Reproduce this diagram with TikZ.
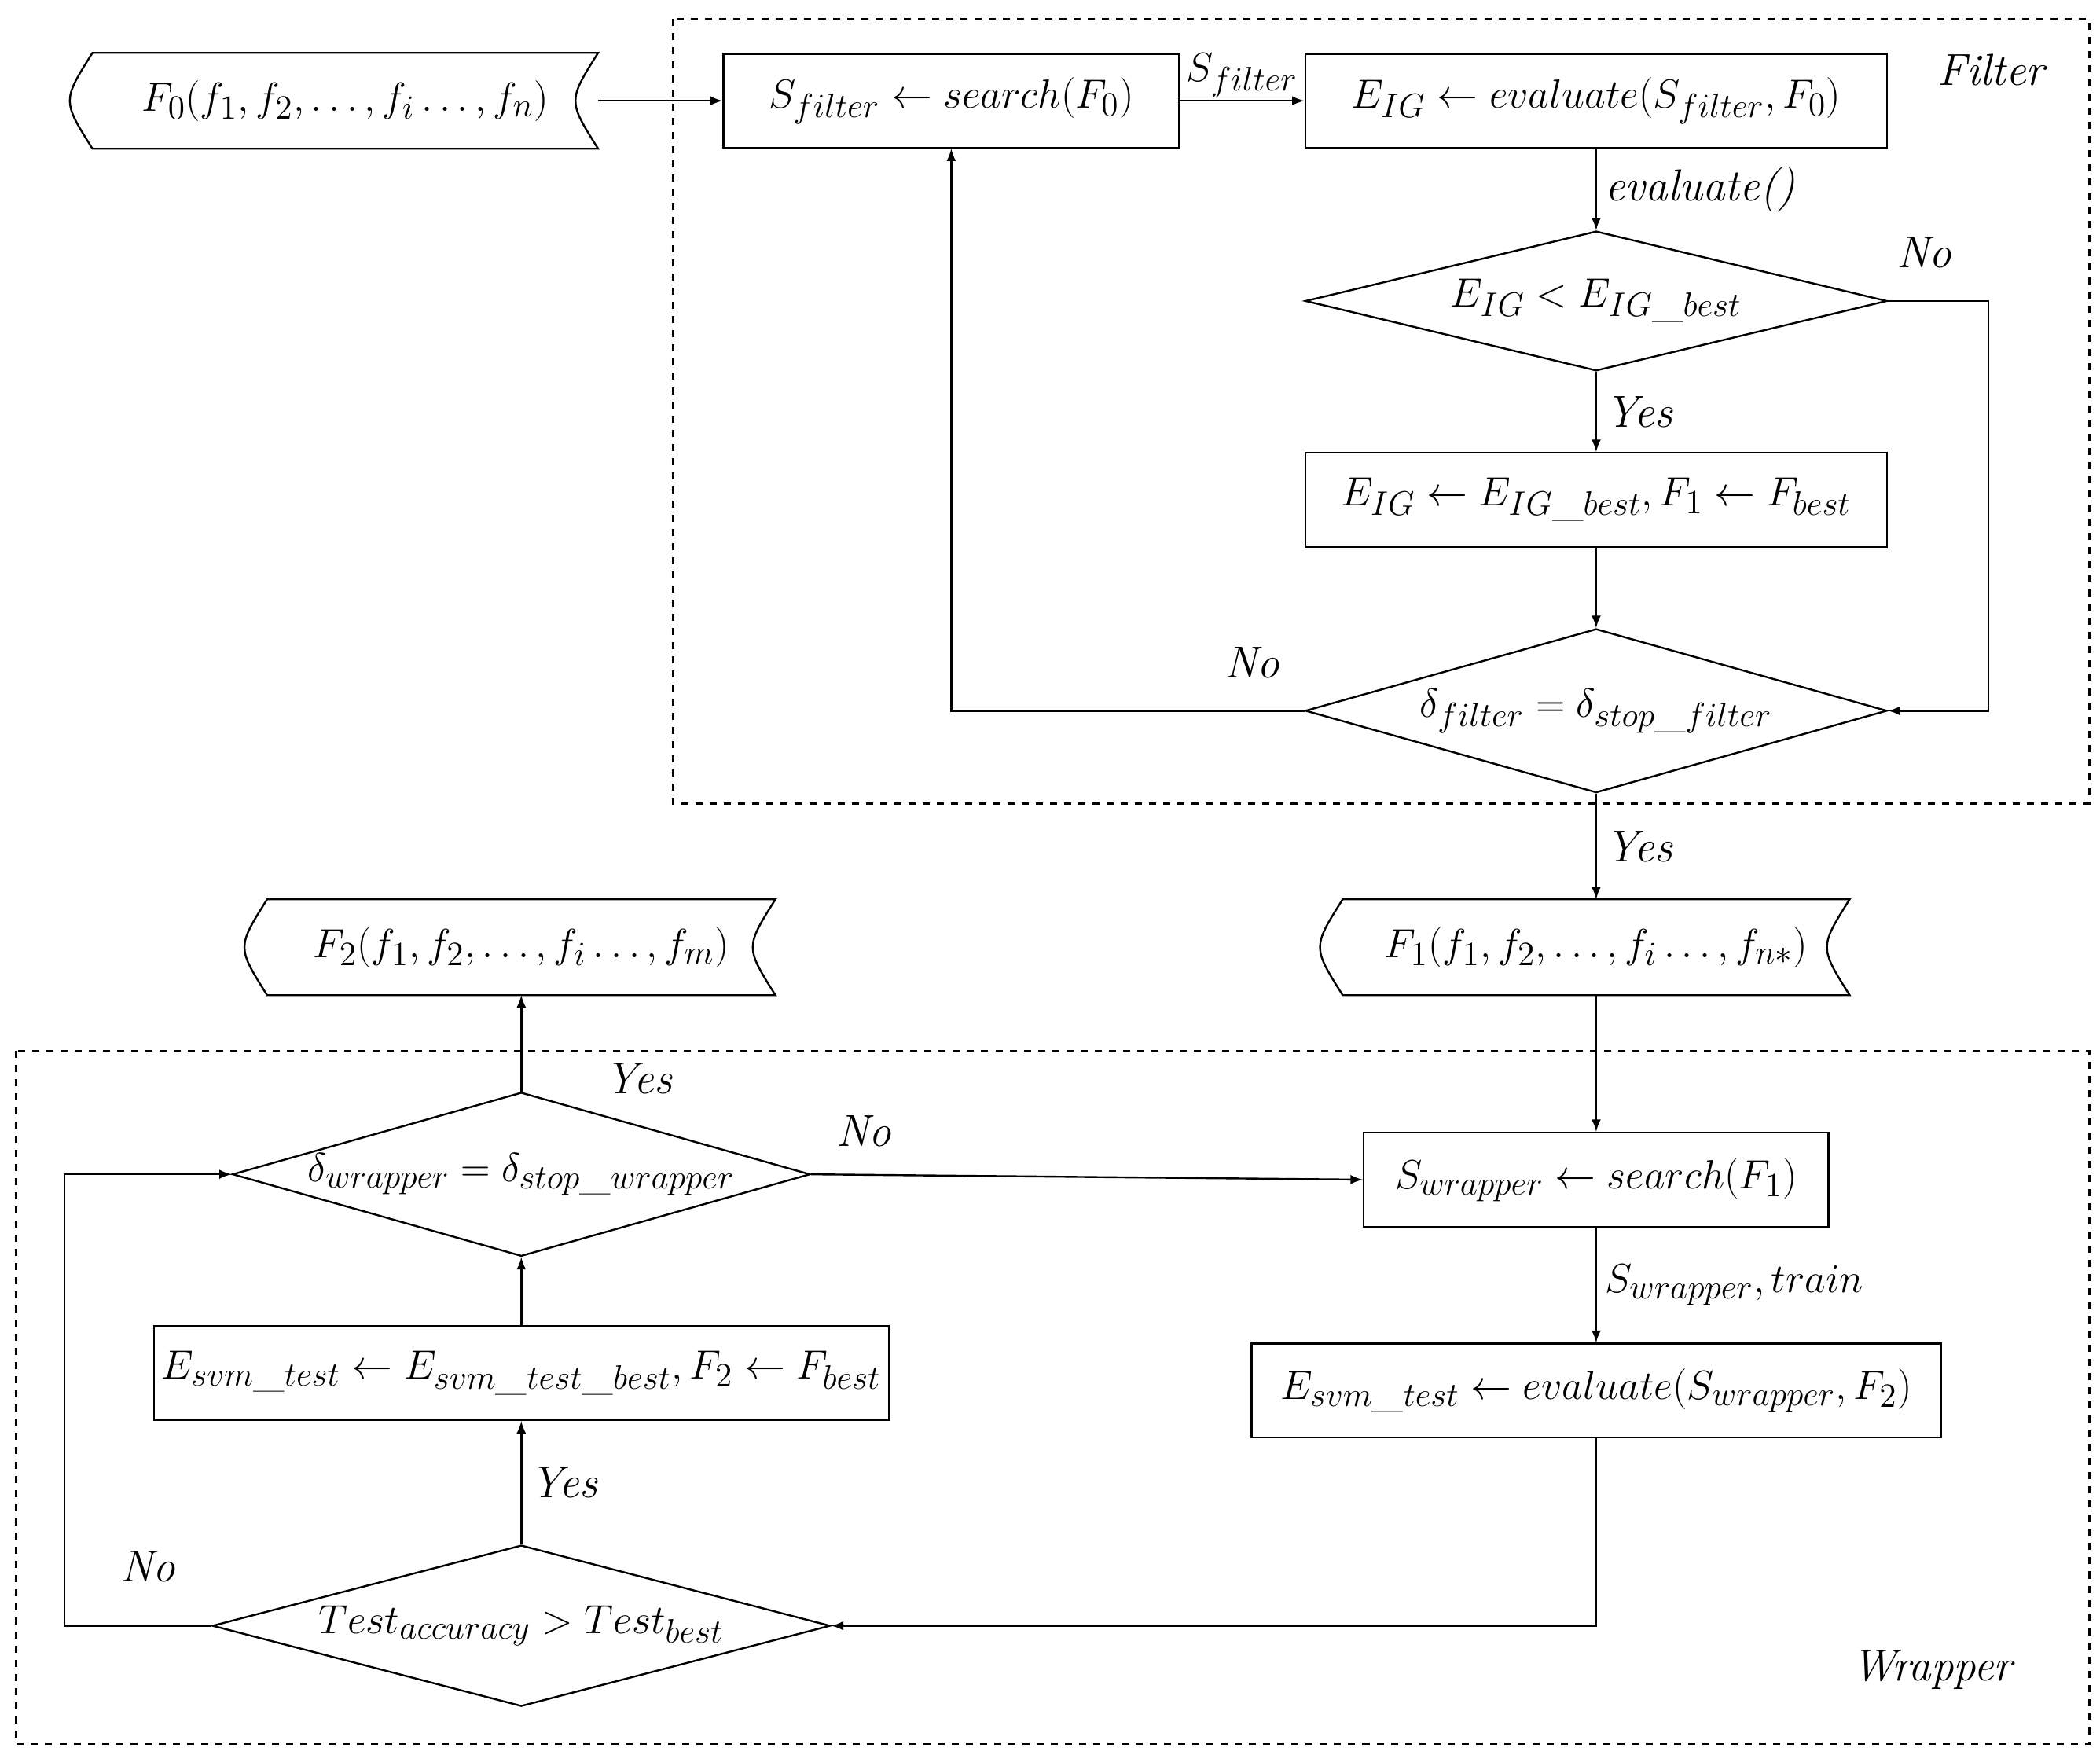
\documentclass[tikz,border=0pt]{standalone}
\usetikzlibrary{shapes.geometric,calc}
\tikzset{
  big/.style={font=\fontsize{19}{23}\selectfont},
  box/.style={draw,rectangle,minimum height=1.4cm,inner sep=2pt,big},
  dia/.style={draw,diamond,aspect=3.6,inner sep=0pt,big},
  tapebox/.style={rectangle,minimum height=1.4cm,minimum width=#1,inner sep=2pt,big},
  lab/.style={font=\fontsize{19}{23}\selectfont\itshape},
  frame/.style={draw,dashed,thick},
  arr/.style={->,>=latex,thick}
}
\newcommand{\tapeoutline}[1]{%
  \draw[thick] (#1.north west) .. controls ($(#1.north west)!0.5!(#1.south west)+(-0.45cm,0)$) .. (#1.south west)
    -- (#1.south east) .. controls ($(#1.north east)!0.5!(#1.south east)+(-0.45cm,0)$) .. (#1.north east) -- cycle;}
\begin{document}
\begin{tikzpicture}[x=0.02cm,y=-0.02cm,thick]
	\useasboundingbox (0,0) rectangle (1563,1306);

		% Filter part
		\draw[frame] (501,14) rectangle (1555,598);
		\node[lab] (filterlab) at (1482,52) {Filter};
		\node[tapebox=7.5cm] (F0) at (257,75) {$F_0(f_1,f_2,\ldots,f_i\ldots,f_n)$};
		\tapeoutline{F0}
		\node[box,minimum width=6.78cm] (Sf) at (708,75) {$S_{filter}\leftarrow search(F_0)$};
		\node[box,minimum width=8.66cm] (Eval) at (1188,75) {$E_{IG}\leftarrow evaluate(S_{filter},F_0)$};
		\node[dia,minimum width=8.66cm,minimum height=2.08cm] (D1) at (1188,224) {$E_{IG}<E_{IG\_best}$};
		\node[box,minimum width=8.66cm] (Upd) at (1188,372) {$E_{IG}\leftarrow E_{IG\_best},F_1\leftarrow F_{best}$};
		\node[dia,minimum width=8.66cm,minimum height=2.44cm] (D2) at (1188,529) {$\delta_{filter}=\delta_{stop\_filter}$};
		\coordinate (c1) at (1480,224);
		\coordinate (c2) at (1480,529);
		\coordinate (c3) at (708,529);

		% Wrapper part
		\draw[frame] (12,782) rectangle (1555,1298);
		\node[lab] (wraplab) at (1438,1243) {Wrapper};
		\node[tapebox=7.52cm] (F1) at (1188,705) {$F_1(f_1,f_2,\ldots,f_i\ldots,f_{n*})$};
		\tapeoutline{F1}
		\node[tapebox=7.54cm] (F2) at (388,705) {$F_2(f_1,f_2,\ldots,f_i\ldots,f_m)$};
		\tapeoutline{F2}
		\node[box,minimum width=6.92cm] (Sw) at (1188,878) {$S_{wrapper}\leftarrow search(F_1)$};
		\node[box,minimum width=10.26cm] (Esvm) at (1188,1035) {$E_{svm\_test}\leftarrow evaluate(S_{wrapper},F_2)$};
		\node[dia,minimum width=9.2cm,minimum height=2.4cm] (D3) at (388,1210) {$Test_{accuracy}>Test_{best}$};
		\node[box,minimum width=10.94cm] (Upd2) at (388,1022) {$E_{svm\_test}\leftarrow E_{svm\_test\_best},F_2\leftarrow F_{best}$};
		\node[dia,minimum width=8.6cm,minimum height=2.44cm] (D4) at (388,874) {$\delta_{wrapper}=\delta_{stop\_wrapper}$};
		\coordinate (c4) at (1188,1210);
		\coordinate (c5) at (48,1210);
		\coordinate (c6) at (48,874);

		\draw[arr] (F0) -- (Sf);
		\draw[arr] (Sf) -- node[above,big,inner sep=1pt] {$S_{filter}$} (Eval);
		\draw[arr] (Eval) -- node[right,lab] {evaluate()} (D1);
		\draw[arr] (D1) -- node[right,lab] {Yes} (Upd);
		\draw[arr] (D1.east) -- (c1) -- (c2) -- (D2.east);
		\node[lab] at (1432,188) {No};
		\draw[arr] (Upd) -- (D2);
		\draw[arr] (D2.west) -- (c3) -- (Sf.south);
		\node[lab] at (932,493) {No};
		\draw[arr] (D2.south) -- node[right,lab] {Yes} (F1);
		\draw[arr] (F1) -- (Sw);
		\draw[arr] (Sw) -- node[right,big] {$S_{wrapper},train$} (Esvm);
		\draw[arr] (Esvm.south) -- (c4) -- (D3.east);
		\draw[arr] (D3.north) -- node[right,lab] {Yes} (Upd2);
		\draw[arr] (D3.west) -- (c5) -- (c6) -- (D4.west);
		\node[lab] at (110,1166) {No};
		\draw[arr] (Upd2) -- (D4.south);
		\draw[arr] (D4.north) -- (F2);
		\node[lab] at (475,803) {Yes};
		\draw[arr] (D4.east) -- (Sw.west);
		\node[lab] at (643,842) {No};

	\end{tikzpicture}
\end{document}
